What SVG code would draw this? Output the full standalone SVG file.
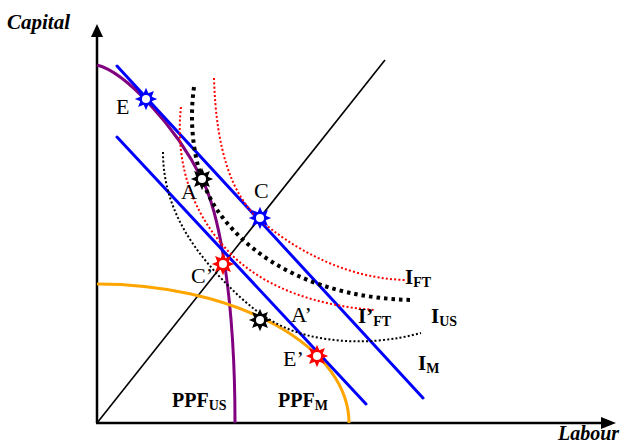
<svg xmlns="http://www.w3.org/2000/svg" width="632" height="446" viewBox="0 0 632 446">
<style>
.axis{stroke:#000;stroke-width:2.5;fill:none}
.ray{stroke:#000;stroke-width:1.6;fill:none}
.ppfus{stroke:#800080;stroke-width:3;fill:none}
.ppfm{stroke:#ffa500;stroke-width:3;fill:none}
.bud{stroke:#0000ff;stroke-width:3;fill:none;stroke-linecap:round}
.red{stroke:#ff0000;stroke-width:2;fill:none;stroke-dasharray:2 2.2}
.blk{stroke:#000;stroke-width:4;fill:none;stroke-dasharray:3.5 4}
.blt{stroke:#000;stroke-width:2;fill:none;stroke-dasharray:2 2.2}
.ax{font-family:"Liberation Serif",serif;font-weight:bold;font-style:italic;font-size:21px;fill:#000}
.pt{font-family:"Liberation Serif",serif;font-size:22px;fill:#000}
.cl{font-family:"Liberation Serif",serif;font-weight:bold;font-size:21px;fill:#000}
.sub{font-size:14px}
.ppf{font-family:"Liberation Serif",serif;font-weight:bold;font-size:20px;fill:#000}
</style>
<defs>
<g id="star" transform="scale(1.12)">
<polygon points="10,0 5.08,2.1 7.07,7.07 2.1,5.08 0,10 -2.1,5.08 -7.07,7.07 -5.08,2.1 -10,0 -5.08,-2.1 -7.07,-7.07 -2.1,-5.08 0,-10 2.1,-5.08 7.07,-7.07 5.08,-2.1"/>
<circle r="5.8"/>
<circle r="3.6" fill="#fff"/>
</g>
</defs>
<rect width="632" height="446" fill="#fff"/>
<g id="axes">
<line class="axis" x1="97" y1="423" x2="97" y2="34"/>
<polygon points="97,24 91,37 103,37" fill="#000"/>
<line class="axis" x1="96" y1="423" x2="604" y2="423"/>
<polygon points="616,423 601,417 601,429" fill="#000"/>
<text class="ax" x="7" y="29">Capital</text>
<text class="ax" x="558" y="440" style="font-size:20px">Labour</text>
</g>
<g id="connectors">
<line class="ray" x1="97" y1="423" x2="385" y2="60"/>
<path id="ppf-us" class="ppfus" d="M97,65 C125,72 175,125 202,179 C220,215 235,300 235,423"/>
<path id="ppf-m" class="ppfm" d="M97,284 A252,139 0 0 1 349,423"/>
<line id="im-upper" class="bud" x1="117" y1="66" x2="423" y2="398"/>
<line id="im-lower" class="bud" x1="117" y1="137" x2="366" y2="404"/>
<path id="ift" class="red" d="M214,78 C216,150 232,196 260,220 C288,244 340,278 405,280"/>
<path id="ift2" class="red" d="M181,107 C175,160 190,215 235,258 C270,290 320,306 375,310"/>
<path id="ius" class="blk" d="M194,87 C188,130 195,180 220,214 C255,262 320,298 412,300"/>
<path id="ius2" class="blt" d="M163,152 C163,210 195,255 240,297 C262,317 285,332 320,338 C360,345 395,340 421,333"/>
</g>
<g id="E"><use href="#star" x="146" y="99" fill="#0000ff"/><text class="pt" x="116" y="114">E</text></g>
<g id="A"><use href="#star" x="202" y="179" fill="#000"/><text class="pt" x="181" y="199">A</text></g>
<g id="C"><use href="#star" x="260" y="218" fill="#0000ff"/><text class="pt" x="254" y="198">C</text></g>
<g id="C2"><use href="#star" x="223" y="264" fill="#ff0000"/><text class="pt" x="191" y="283">C’</text></g>
<g id="A2"><use href="#star" x="260" y="320" fill="#000"/><text class="pt" x="291" y="322">A’</text></g>
<g id="E2"><use href="#star" x="317" y="356" fill="#ff0000"/><text class="pt" x="283" y="366">E’</text></g>
<g id="labels">
<text class="cl" x="405" y="284">I<tspan class="sub" dy="3">FT</tspan></text>
<text class="cl" x="358" y="323">I’<tspan class="sub" dy="3">FT</tspan></text>
<text class="cl" x="431" y="323">I<tspan class="sub" dy="3">US</tspan></text>
<text class="cl" x="418" y="370">I<tspan class="sub" dy="3">M</tspan></text>
<text class="ppf" x="172" y="407">PPF<tspan class="sub" dy="3">US</tspan></text>
<text class="ppf" x="278" y="407">PPF<tspan class="sub" dy="3">M</tspan></text>
</g>
</svg>
